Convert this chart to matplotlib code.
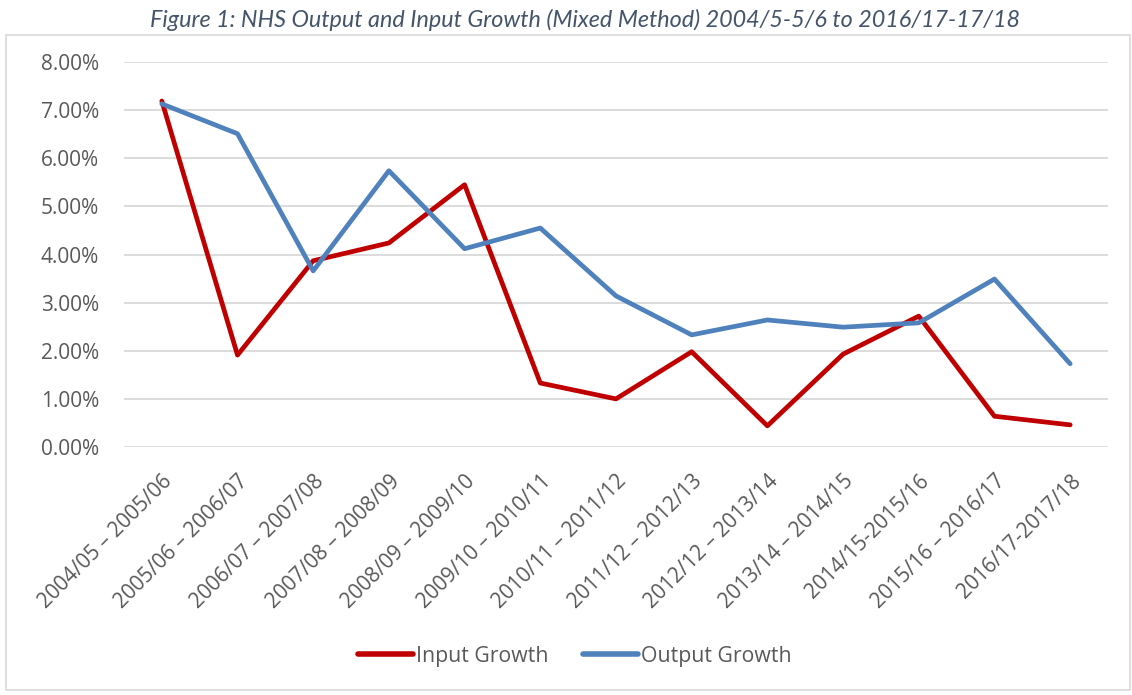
#!/usr/bin/env python3
"""NHS output and input growth (mixed method) line chart."""

import matplotlib

matplotlib.use("Agg")
import matplotlib.pyplot as plt
from matplotlib.patches import Rectangle
from matplotlib.ticker import PercentFormatter

PERIODS = [
    "2004/05 \u2013 2005/06",
    "2005/06 \u2013 2006/07",
    "2006/07 \u2013 2007/08",
    "2007/08 \u2013 2008/09",
    "2008/09 \u2013 2009/10",
    "2009/10 \u2013 2010/11",
    "2010/11 \u2013 2011/12",
    "2011/12 \u2013 2012/13",
    "2012/12 \u2013 2013/14",
    "2013/14 \u2013 2014/15",
    "2014/15-2015/16",
    "2015/16 \u2013 2016/17",
    "2016/17-2017/18",
]
INPUT_GROWTH = [7.19, 1.91, 3.87, 4.24, 5.45, 1.33, 1.00, 1.98, 0.44, 1.93, 2.72, 0.64, 0.46]
OUTPUT_GROWTH = [7.13, 6.51, 3.66, 5.74, 4.12, 4.55, 3.14, 2.33, 2.64, 2.49, 2.58, 3.49, 1.73]
Y_TICKS = [0, 1, 2, 3, 4, 5, 6, 7, 8]

TITLE = "Figure 1: NHS Output and Input Growth (Mixed Method) 2004/5-5/6 to 2016/17-17/18"
TEXT_COLOR = "#595959"
FONT = ["Open Sans", "DejaVu Sans"]

plt.rcParams["font.family"] = FONT

fig = plt.figure(figsize=(11.32, 6.95), dpi=100)
ax = fig.add_axes([0.1095, 0.3568, 0.8693, 0.554])

x = list(range(len(PERIODS)))
ax.plot(x, INPUT_GROWTH, color="#C00000", linewidth=3.4, label="Input Growth",
        solid_joinstyle="round", solid_capstyle="round")
ax.plot(x, OUTPUT_GROWTH, color="#4F81BD", linewidth=3.4, label="Output Growth",
        solid_joinstyle="round", solid_capstyle="round")

ax.set_xlim(-0.5, len(PERIODS) - 0.5)
ax.set_ylim(0, 8)
ax.set_yticks(Y_TICKS)
ax.yaxis.set_major_formatter(PercentFormatter(decimals=2))
ax.set_xticks(x)
ax.set_xticklabels(PERIODS, rotation=45, ha="right", rotation_mode="anchor")
ax.tick_params(axis="both", length=0, colors=TEXT_COLOR, labelsize=15)
ax.tick_params(axis="y", pad=18)
ax.tick_params(axis="x", pad=17)
ax.grid(axis="y", color="#D9D9D9", linewidth=1.3)
ax.set_axisbelow(True)
for spine in ax.spines.values():
    spine.set_visible(False)

leg = fig.legend(loc="center", bbox_to_anchor=(0.508, 0.056), ncol=2, frameon=False,
                 fontsize=15.3, labelcolor=TEXT_COLOR, handlelength=2.6,
                 handletextpad=0.15, columnspacing=1.6)
for line in leg.get_lines():
    line.set_linewidth(4.0)
    line.set_solid_capstyle("round")

fig.patches.append(Rectangle((0.005, 0.007), 0.993, 0.943, transform=fig.transFigure,
                             fill=False, edgecolor="#D9D9D9", linewidth=1.2))
fig.text(0.517, 0.972, TITLE, ha="center", va="center", fontsize=16.8,
         style="italic", color="#44546A", family=["Lato", "DejaVu Sans"])

fig.savefig("out.png", dpi=100)
